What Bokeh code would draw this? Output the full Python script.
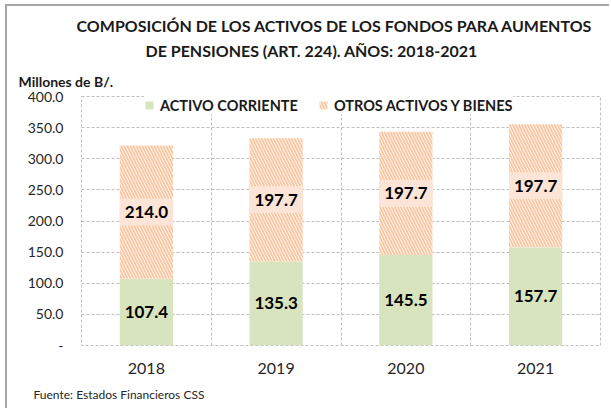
from bokeh.plotting import figure
from bokeh.models import (ColumnDataSource, LabelSet, Legend, LegendItem, Title,
                          FixedTicker, Range1d)
from bokeh.core.properties import value
from bokeh.embed import file_html
from bokeh.resources import INLINE

# ---- data ----
years = ["2018", "2019", "2020", "2021"]
activo_corriente = [107.4, 135.3, 145.5, 157.7]
otros_activos = [214.0, 197.7, 197.7, 197.7]
y_ticks = [0, 50, 100, 150, 200, 250, 300, 350, 400]
y_tick_labels = ["-", "50.0", "100.0", "150.0", "200.0", "250.0", "300.0", "350.0", "400.0"]
title_lines = ["COMPOSICIÓN DE LOS ACTIVOS DE LOS FONDOS PARA AUMENTOS",
               "DE PENSIONES (ART. 224). AÑOS: 2018-2021"]
y_label = "Millones de B/."
source_note = "Fuente:  Estados Financieros CSS"
series_names = ["ACTIVO CORRIENTE", "OTROS ACTIVOS Y BIENES"]

GREEN = "#d7e4bd"
HATCH = "#f9c9a6"
PEACH = "#fce4d6"
GRID = "#bfbfbf"
FONT = "Lato"
BAR_W = 0.41

xpos = [i + 0.5 for i in range(len(years))]
top2 = [a + b for a, b in zip(activo_corriente, otros_activos)]

src = ColumnDataSource(dict(
    x=xpos, a=activo_corriente, b=otros_activos, bottom2=activo_corriente, top2=top2,
    a_mid=[v / 2 for v in activo_corriente],
    b_mid=[a + b / 2 for a, b in zip(activo_corriente, otros_activos)],
    a_txt=[f"{v:.1f}" for v in activo_corriente],
    b_txt=[f"{v:.1f}" for v in otros_activos],
))

p = figure(width=604, height=404, output_backend="svg", toolbar_location=None,
           x_range=Range1d(0, len(years)), y_range=Range1d(0, 400),
           min_border_left=74, min_border_right=11, min_border_top=90,
           min_border_bottom=65)
p.styles = {"margin-left": "5px", "margin-top": "4px",
            "border-left": "2px solid #a6a6a6", "border-top": "2px solid #a6a6a6"}
p.border_fill_color = "white"
p.background_fill_color = "white"
p.outline_line_color = GRID
p.outline_line_dash = "3 2"
p.outline_line_width = 1

# bars
r1 = p.vbar(x="x", top="a", bottom=0, width=BAR_W, source=src,
            fill_color=GREEN, line_color=None)
r2 = p.vbar(x="x", top="top2", bottom="bottom2", width=BAR_W, source=src,
            fill_color="white", line_color=None,
            hatch_pattern="\\", hatch_color=HATCH, hatch_weight=2.0, hatch_scale=6)
p.rect(x="x", y="b_mid", width=BAR_W, height=27, height_units="screen", source=src,
       fill_color=PEACH, line_color=None)

# value labels
for ycol, tcol in (("a_mid", "a_txt"), ("b_mid", "b_txt")):
    p.add_layout(LabelSet(x="x", y=ycol, text=tcol, source=src,
                          text_align="center", text_baseline="middle",
                          text_font=value(FONT), text_font_style="bold",
                          text_font_size="17px", text_color="black"))

# axes
p.yaxis.ticker = FixedTicker(ticks=y_ticks)
p.yaxis.major_label_overrides = {t: l for t, l in zip(y_ticks, y_tick_labels)}
p.xaxis.ticker = FixedTicker(ticks=xpos)
p.xaxis.major_label_overrides = {x: y for x, y in zip(xpos, years)}
for ax in (p.xaxis, p.yaxis):
    ax.axis_line_color = None
    ax.major_tick_line_color = None
    ax.minor_tick_line_color = None
    ax.major_label_text_font = FONT
    ax.major_label_text_color = "#262626"
p.yaxis.major_label_text_font_size = "14px"
p.yaxis.major_label_standoff = 12
p.xaxis.major_label_text_font_size = "16px"
p.xaxis.major_label_standoff = 11

# grids
p.ygrid.ticker = FixedTicker(ticks=y_ticks)
p.ygrid.grid_line_color = GRID
p.ygrid.grid_line_dash = "3 2"
p.xgrid.ticker = FixedTicker(ticks=list(range(len(years) + 1)))
p.xgrid.grid_line_color = GRID
p.xgrid.grid_line_dash = "3 2"

# legend
legend = Legend(items=[LegendItem(label=series_names[0], renderers=[r1]),
                       LegendItem(label=series_names[1], renderers=[r2])],
                orientation="horizontal", location=(63, 231),
                label_text_font=FONT, label_text_font_style="bold",
                label_text_font_size="14.5px", label_text_color="#1a1a1a",
                glyph_width=10, glyph_height=10, label_standoff=6, spacing=20,
                padding=3, margin=0, border_line_color=None,
                background_fill_color="white", background_fill_alpha=1,
                label_height=18)
p.add_layout(legend, "center")

# titles (stacked outward from the frame)
p.add_layout(Title(text=y_label, align="left", offset=-63, standoff=14,
                   text_font=FONT, text_font_style="bold", text_font_size="14px",
                   text_color="#1a1a1a"), "above")
p.add_layout(Title(text=title_lines[1], align="left", offset=64, standoff=8,
                   text_font=FONT, text_font_style="bold", text_font_size="16px",
                   text_color="#1a1a1a"), "above")
p.add_layout(Title(text=title_lines[0], align="left", offset=-5, standoff=0,
                   text_font=FONT, text_font_style="bold", text_font_size="16px",
                   text_color="#1a1a1a"), "above")
p.add_layout(Title(text=source_note, align="left", offset=-48, standoff=16,
                   text_font=FONT, text_font_style="normal", text_font_size="12px",
                   text_color="#262626"), "below")

open("out.html", "w").write(file_html(p, INLINE))
